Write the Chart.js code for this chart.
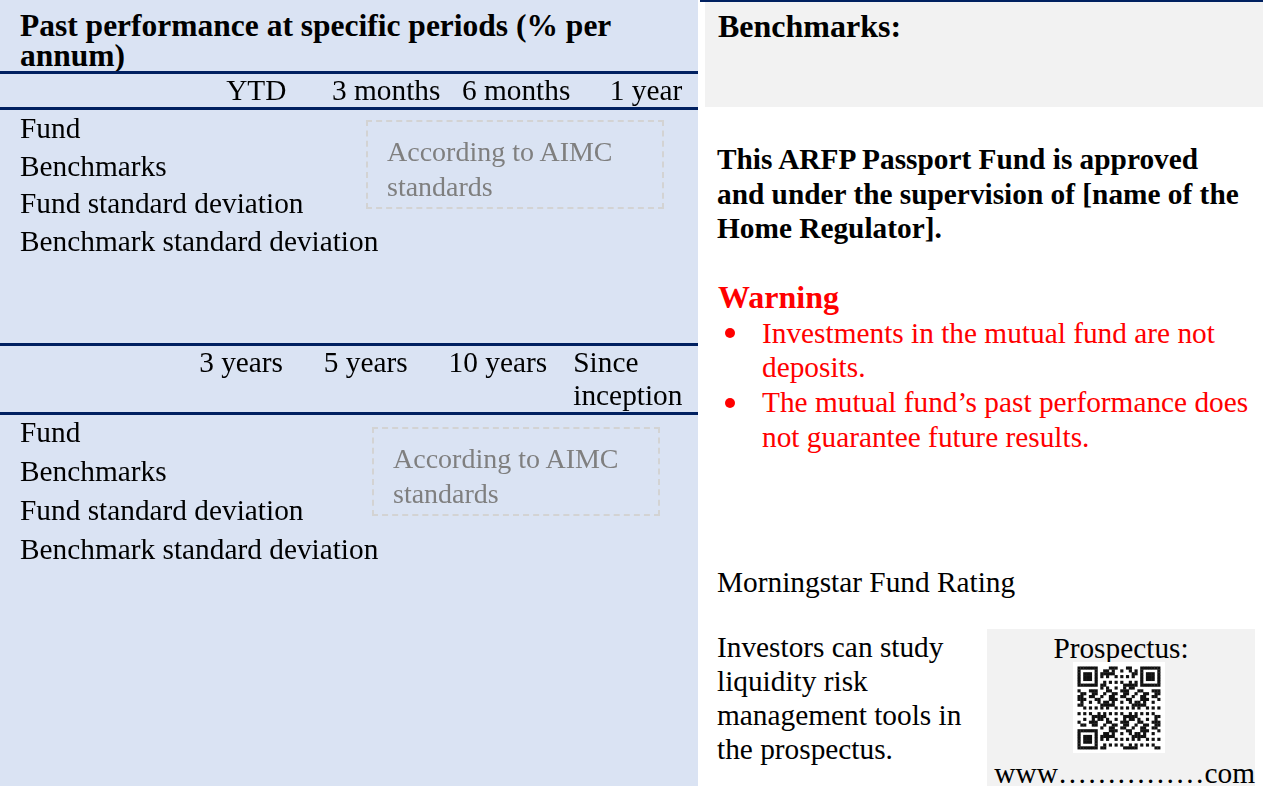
<!DOCTYPE html>
<html>
<head>
<meta charset="utf-8">
<script src="https://cdn.jsdelivr.net/npm/chart.js@4/dist/chart.umd.min.js"></script>
<style>
  body { margin: 0; background: #fff; font-family: "Liberation Serif", "Times New Roman", serif; color: #000; }
  .abs { position: absolute; white-space: nowrap; }
  .rule { position: absolute; background: #002060; }
  .dashbox { position: absolute; border: 2px dashed #d3d3d3; box-sizing: border-box; color: #7f7f7f;
             font-size: 28px; line-height: 35px; padding: 12px 0 0 19px; }
  .body { font-size: 29.33px; line-height: 34.5px; }
  .dot { position: absolute; width: 10px; height: 10px; border-radius: 50%; background: #ff0000; left: 725px; }
</style>
</head>
<body>
<div id="left" class="abs" style="left:0;top:0;width:698px;height:786px;background:#dae3f3;"></div>
<div class="abs" style="left:20px;top:11px;font-weight:bold;font-size:31.5px;line-height:30px;">Past performance at specific periods (% per<br>annum)</div>
<div class="rule" style="left:0;top:71px;width:698px;height:3px;"></div>
<div class="rule" style="left:0;top:107px;width:698px;height:3px;"></div>
<div class="rule" style="left:0;top:343px;width:698px;height:3px;"></div>
<div class="rule" style="left:0;top:412px;width:698px;height:3px;"></div>

<canvas id="shortChart" class="abs" width="698" height="270" style="left:0;top:74px;"></canvas>
<canvas id="longChart" class="abs" width="698" height="440" style="left:0;top:346px;"></canvas>

<div class="dashbox" style="left:366px;top:120px;width:298px;height:89px;">According to AIMC<br>standards</div>
<div class="dashbox" style="left:372px;top:427px;width:288px;height:89px;">According to AIMC<br>standards</div>

<!-- right column -->
<div class="rule" style="left:700px;top:0;width:563px;height:2px;"></div>
<div class="abs" style="left:705px;top:2px;width:558px;height:105px;background:#f2f2f2;"></div>
<div class="abs" style="left:718px;top:9px;font-weight:bold;font-size:32px;line-height:34px;">Benchmarks:</div>

<div class="abs body" style="left:717px;top:142px;font-weight:bold;">This ARFP Passport Fund is approved<br>and under the supervision of [name of the<br>Home Regulator].</div>

<div class="abs" style="left:718px;top:280px;font-weight:bold;font-size:32px;line-height:34px;color:#ff0000;">Warning</div>
<div class="dot" style="top:328px;"></div>
<div class="dot" style="top:398px;"></div>
<div class="abs body" style="left:762px;top:315.5px;color:#ff0000;line-height:34.7px;">Investments in the mutual fund are not<br>deposits.<br>The mutual fund’s past performance does<br>not guarantee future results.</div>

<div class="abs body" style="left:717px;top:565px;">Morningstar Fund Rating</div>
<div class="abs body" style="left:717px;top:630px;line-height:34px;">Investors can study<br>liquidity risk<br>management tools in<br>the prospectus.</div>

<div class="abs" style="left:987px;top:629px;width:268px;height:157px;background:#f2f2f2;"></div>
<div class="abs body" style="left:987px;top:631px;width:268px;text-align:center;line-height:34px;">Prospectus:</div>
<canvas id="qr" class="abs" width="92" height="91" style="left:1073px;top:662px;filter:blur(0.6px);"></canvas>
<div class="abs body" style="left:987px;top:756px;width:268px;text-align:right;line-height:34px;">www……………com</div>

<script>
// table headers and rows
const shortPeriods = ['YTD', '3 months', '6 months', '1 year'];
const longPeriods = ['3 years', '5 years', '10 years', ['Since', 'inception']];
const rowLabels = ['Fund', 'Benchmarks', 'Fund standard deviation', 'Benchmark standard deviation'];

// values are published "according to AIMC standards", none shown
const fundShort = [null, null, null, null];
const benchShort = [null, null, null, null];
const fundSdShort = [null, null, null, null];
const benchSdShort = [null, null, null, null];
const fundLong = [null, null, null, null];
const benchLong = [null, null, null, null];
const fundSdLong = [null, null, null, null];
const benchSdLong = [null, null, null, null];

Chart.defaults.font.family = '"Liberation Serif", "Times New Roman", serif';
Chart.defaults.color = '#000';

function makeTable(canvasId, periods, rows, opts) {
    const ctx = document.getElementById(canvasId).getContext('2d');

    const datasets = rows.map((values, r) => ({
        label: rowLabels[r],
        data: values.map((v, i) => ({ x: i, y: v === null ? null : r, v: v })),
        pointRadius: 0,
        showLine: false
    }));

    const config = {
        type: 'scatter',
        data: { datasets: datasets },
        options: {
            responsive: false,
            animation: false,
            events: [],
            layout: { padding: 0 },
            plugins: { legend: { display: false }, tooltip: { enabled: false } },
            scales: {
                x: {
                    type: 'linear',
                    position: 'top',
                    min: opts.xMin,
                    max: opts.xMax,
                    grid: { display: false, drawTicks: false },
                    border: { display: false },
                    afterBuildTicks: axis => { axis.ticks = periods.map((p, i) => ({ value: i })); },
                    ticks: {
                        autoSkip: false,
                        maxRotation: 0,
                        align: opts.align,
                        crossAlign: 'far',
                        padding: opts.xPad,
                        font: { size: 29.33, lineHeight: opts.lineHeight },
                        callback: v => periods[v]
                    }
                },
                y: {
                    type: 'linear',
                    position: 'left',
                    reverse: true,
                    min: opts.yMin,
                    max: opts.yMax,
                    grid: { display: false, drawTicks: false },
                    border: { display: false },
                    afterBuildTicks: axis => { axis.ticks = rowLabels.map((r, i) => ({ value: i })); },
                    ticks: {
                        mirror: true,
                        padding: 6.67,
                        autoSkip: false,
                        font: { size: 29.33 },
                        callback: v => rowLabels[v]
                    }
                }
            }
        }
    };

    return new Chart(ctx, config);
}

window.shortChart = makeTable('shortChart', shortPeriods,
    [fundShort, benchShort, fundSdShort, benchSdShort],
    { xMin: -1.87, xMax: 3.40, align: 'center', xPad: 1, lineHeight: 1.2, yMin: -0.49, yMax: 5.0 });

window.longChart = makeTable('longChart', longPeriods,
    [fundLong, benchLong, fundSdLong, benchSdLong],
    { xMin: -1.49, xMax: 4.0, align: 'start', xPad: 1.5, lineHeight: '33px', yMin: -0.5, yMax: 8.39 });

// QR code placeholder (decorative)
(function drawQr() {
    const c = document.getElementById('qr').getContext('2d');
    c.fillStyle = '#fff';
    c.fillRect(0, 0, 92, 91);
    const n = 29, cell = 2.85, off = 4.5;
    const finder = (r, col) => {
        for (const [fr, fc] of [[0, 0], [0, n - 7], [n - 7, 0]]) {
            const rr = r - fr, cc = col - fc;
            if (rr >= 0 && rr < 7 && cc >= 0 && cc < 7) {
                const edge = rr === 0 || rr === 6 || cc === 0 || cc === 6;
                const core = rr >= 2 && rr <= 4 && cc >= 2 && cc <= 4;
                return edge || core ? 1 : 0;
            }
            if (rr >= -1 && rr <= 7 && cc >= -1 && cc <= 7) return 0;
        }
        return -1;
    };
    c.fillStyle = '#111';
    for (let r = 0; r < n; r++) {
        for (let col = 0; col < n; col++) {
            let on = finder(r, col);
            if (on === -1) on = ((r * 7 + col * 13 + r * col * 5) % 11) < 5 ? 1 : 0;
            if (on) c.fillRect(off + col * cell, off + r * cell, cell + 0.3, cell + 0.3);
        }
    }
})();
</script>
</body>
</html>
